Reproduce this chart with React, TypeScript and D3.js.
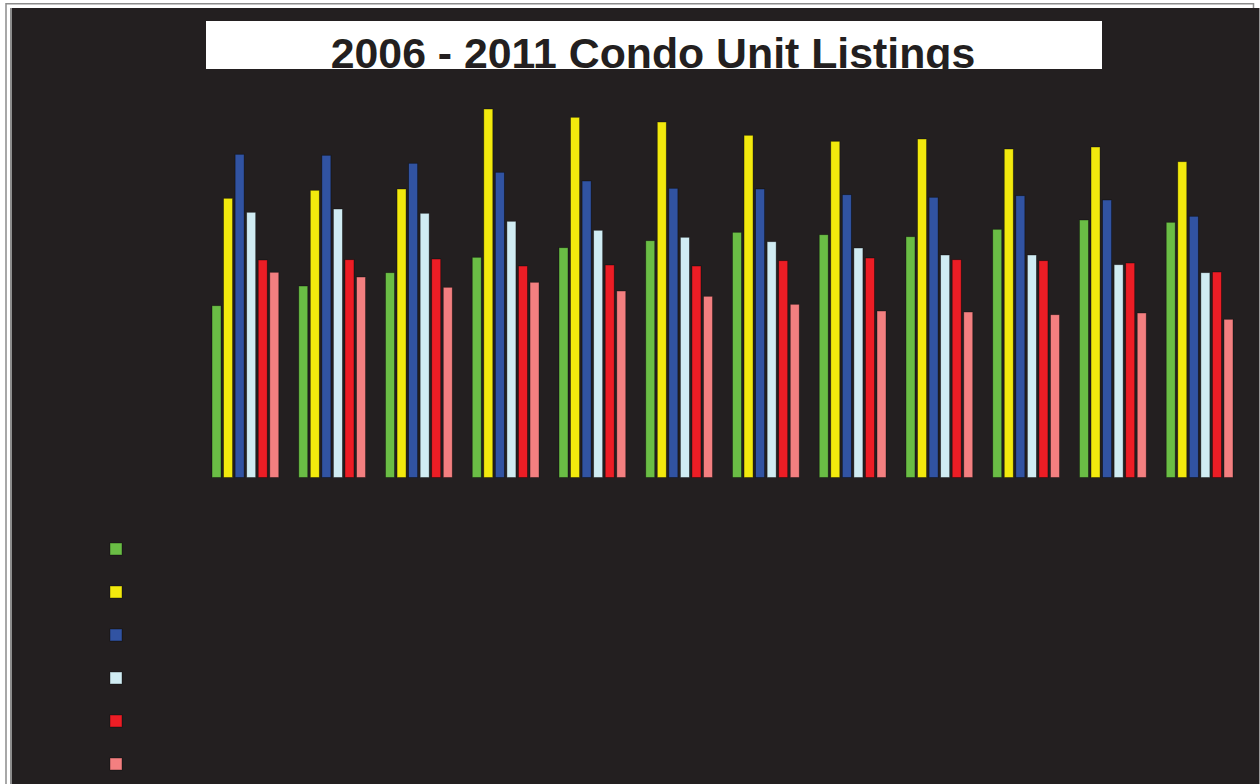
import React, { useEffect } from "react";
import * as d3 from "d3";

const months = ["Jan", "Feb", "Mar", "Apr", "May", "Jun", "Jul", "Aug", "Sep", "Oct", "Nov", "Dec"];
const years = ["2006", "2007", "2008", "2009", "2010", "2011"];
const colors = ["#6abd45", "#f2e90d", "#3153a2", "#d0ecf3", "#ec1d25", "#f37f80"];

// listings per month, one array per year
const s2006 = [171.8, 191.5, 204.8, 220.2, 229.8, 236.8, 245.2, 242.8, 240.8, 248.2, 257.5, 255.2];
const s2007 = [279.2, 287.2, 288.5, 368.5, 360.2, 355.5, 342.2, 336.2, 338.5, 328.5, 330.5, 315.8];
const s2008 = [323.2, 322.2, 314.2, 305.2, 296.5, 289.2, 288.5, 282.8, 280.2, 281.8, 277.5, 261.2];
const s2009 = [265.2, 268.5, 264.2, 256.2, 247.2, 240.2, 235.8, 229.5, 222.5, 222.5, 212.8, 204.8];
const s2010 = [217.5, 217.8, 218.5, 211.5, 212.5, 211.5, 216.8, 219.5, 217.8, 216.8, 214.5, 205.5];
const s2011 = [205.2, 200.5, 190.2, 195.2, 186.5, 181.2, 173.2, 166.5, 165.5, 162.8, 164.5, 158.2];

const series = [s2006, s2007, s2008, s2009, s2010, s2011];
const title = "2006 - 2011 Condo Unit Listings";

const BG = "#231f20";

export default function App() {
  useEffect(() => {
    document.body.style.margin = "0";
  }, []);

  const x0 = d3.scaleBand<string>().domain(months).range([212, 1233]).paddingInner(0.23).paddingOuter(0);
  const x1 = d3.scaleBand<string>().domain(years).range([0, x0.bandwidth()]).paddingInner(0.22).paddingOuter(0);
  const y = d3.scaleLinear().domain([0, 400]).range([477.5, 77.5]);

  const legendY = d3.scalePoint<string>().domain(years).range([549, 764]);

  return (
    <svg width={1260} height={784} style={{ position: "absolute", left: 0, top: 0, display: "block" }}>
      <defs>
        <clipPath id="titleClip">
          <rect x={206} y={21} width={896} height={48} />
        </clipPath>
      </defs>
      <rect x={0} y={0} width={1260} height={784} fill="#ffffff" />
      <rect x={6} y={3.75} width={1247.5} height={900} fill="none" stroke="#8c8c8c" strokeWidth={1.5} />
      <rect x={10} y={8} width={1250} height={800} fill={BG} />
      <line x1={11} y1={8} x2={11} y2={784} stroke="#8c8c8c" strokeWidth={2} />
      <line x1={1259.5} y1={8} x2={1259.5} y2={784} stroke="#9a9a9a" strokeWidth={1} />

      <rect x={206} y={21} width={896} height={48} fill="#ffffff" />
      <g clipPath="url(#titleClip)">
        <text
          x={653}
          y={68}
          textAnchor="middle"
          fontFamily="'Liberation Sans', Arial, sans-serif"
          fontWeight="bold"
          fontSize={42.8}
          fill={BG}
        >
          {title}
        </text>
      </g>

      <g>
        {months.map((m, i) => (
          <g key={m} transform={`translate(${x0(m)},0)`}>
            {years.map((yr, j) => {
              const v = series[j][i];
              return (
                <rect
                  key={yr}
                  x={x1(yr)}
                  y={y(v)}
                  width={x1.bandwidth()}
                  height={y(0) - y(v)}
                  fill={colors[j]}
                  stroke="rgba(0,0,0,0.45)"
                  strokeWidth={0.8}
                />
              );
            })}
          </g>
        ))}
      </g>

      <g>
        {years.map((yr, j) => (
          <rect
            key={yr}
            x={110}
            y={(legendY(yr) as number) - 6}
            width={12}
            height={12}
            fill={colors[j]}
            stroke="rgba(0,0,0,0.45)"
            strokeWidth={0.8}
          />
        ))}
      </g>
    </svg>
  );
}
